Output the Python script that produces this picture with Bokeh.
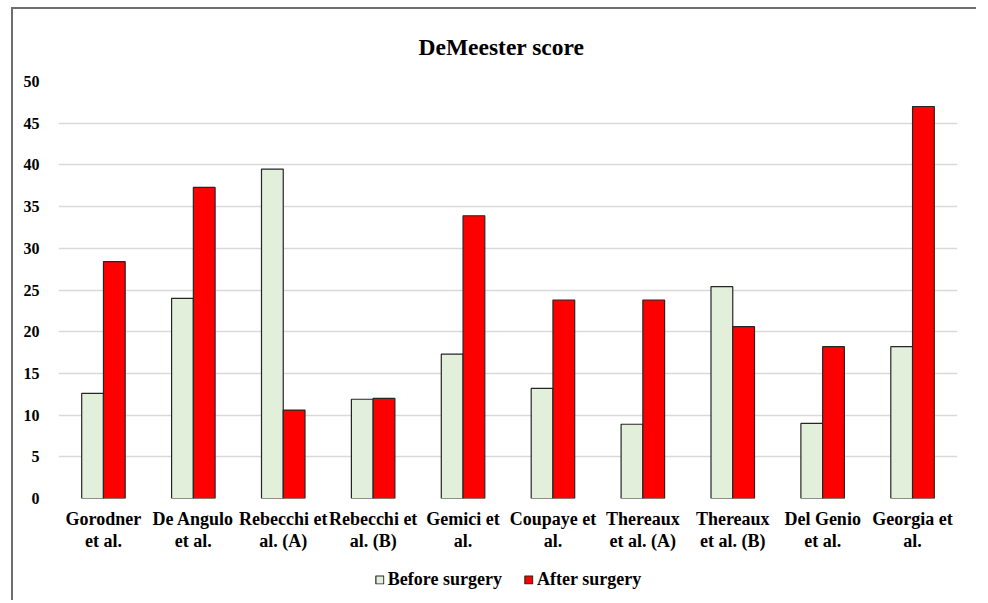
from bokeh.plotting import figure
from bokeh.layouts import column
from bokeh.models import ColumnDataSource, FactorRange, Legend, LegendItem, SingleIntervalTicker, Range1d
from bokeh.transform import dodge
from bokeh.embed import file_html
from bokeh.resources import INLINE

categories = ["Gorodner\net al.", "De Angulo\net al.", "Rebecchi et\nal. (A)", "Rebecchi et\nal. (B)",
              "Gemici et\nal.", "Coupaye et\nal.", "Thereaux\net al. (A)", "Thereaux\net al. (B)",
              "Del Genio\net al.", "Georgia et\nal."]
before = [12.6, 24.0, 39.5, 11.9, 17.3, 13.2, 8.9, 25.4, 9.0, 18.2]
after = [28.4, 37.3, 10.6, 12.0, 33.9, 23.8, 23.8, 20.6, 18.2, 47.0]
series_names = ["Before surgery", "After surgery"]
title_text = "DeMeester score"

FONT = "Liberation Serif"
C_BEFORE = "#e2efda"
C_AFTER = "#ff0000"
C_EDGE = "#262626"

src = ColumnDataSource(dict(cat=categories, before=before, after=after))

p = figure(x_range=FactorRange(*categories, range_padding=0), y_range=Range1d(0, 50),
           width=963, height=549, output_backend="svg", toolbar_location=None,
           min_border_left=45, min_border_right=8, min_border_top=67, min_border_bottom=60)

bw = 0.242
p.vbar(x=dodge("cat", -bw / 2, range=p.x_range), top="before", width=bw, source=src,
       fill_color=C_BEFORE, line_color=C_EDGE, line_width=1.2)
p.vbar(x=dodge("cat", bw / 2, range=p.x_range), top="after", width=bw, source=src,
       fill_color=C_AFTER, line_color=C_EDGE, line_width=1.2)

p.title.text = title_text
p.title.align = "left"
p.title.offset = 360
p.title.text_font = FONT
p.title.text_font_size = "23.5px"
p.title.text_font_style = "bold"
p.title.text_color = "#000000"
p.title.standoff = 44

p.yaxis.ticker = SingleIntervalTicker(interval=5)
p.yaxis.axis_line_color = None
p.yaxis.major_tick_line_color = None
p.yaxis.major_tick_out = 0
p.yaxis.major_tick_in = 0
p.yaxis.minor_tick_line_color = None
p.yaxis.major_label_standoff = 15
p.yaxis.major_label_text_font = FONT
p.yaxis.major_label_text_font_size = "16px"
p.yaxis.major_label_text_font_style = "bold"
p.yaxis.major_label_text_color = "#000000"

p.xaxis.axis_line_color = None
p.xaxis.major_tick_line_color = None
p.xaxis.major_tick_out = 0
p.xaxis.major_tick_in = 0
p.xaxis.minor_tick_line_color = None
p.xaxis.major_label_standoff = 10
p.xaxis.major_label_text_font = FONT
p.xaxis.major_label_text_font_size = "18px"
p.xaxis.major_label_text_font_style = "bold"
p.xaxis.major_label_text_color = "#000000"
p.xaxis.major_label_text_line_height = 1.1

p.xgrid.grid_line_color = None
p.ygrid.grid_line_color = "#d9d9d9"
p.ygrid.grid_line_width = 1.5
p.outline_line_color = None

# legend strip
lg = figure(x_range=Range1d(0, 1), y_range=Range1d(0, 1), width=963, height=42,
            output_backend="svg", toolbar_location=None,
            min_border_left=0, min_border_right=19, min_border_top=0, min_border_bottom=0)
lg.axis.visible = False
lg.grid.visible = False
lg.outline_line_color = None
hidden = ColumnDataSource(dict(x=[float("nan")], top=[float("nan")]))
g1 = lg.vbar(x="x", top="top", width=0.1, source=hidden,
             fill_color=C_BEFORE, line_color=C_EDGE, line_width=1.2)
g2 = lg.vbar(x="x", top="top", width=0.1, source=hidden,
             fill_color=C_AFTER, line_color=C_EDGE, line_width=1.2)
legend = Legend(items=[LegendItem(label=series_names[0], renderers=[g1]),
                       LegendItem(label=series_names[1], renderers=[g2])],
                orientation="horizontal", location="center",
                glyph_width=10, glyph_height=10, label_standoff=4, spacing=21,
                label_text_font=FONT, label_text_font_size="18px", label_text_font_style="bold",
                label_text_color="#000000",
                border_line_color=None, background_fill_alpha=0, padding=0, margin=0)
lg.add_layout(legend)

layout = column(p, lg, spacing=0,
                styles={"border-left": "2px solid #6e6e6e", "border-top": "2px solid #6e6e6e",
                        "margin-left": "11px", "margin-top": "7px"})

open("out.html", "w").write(file_html(layout, INLINE))
